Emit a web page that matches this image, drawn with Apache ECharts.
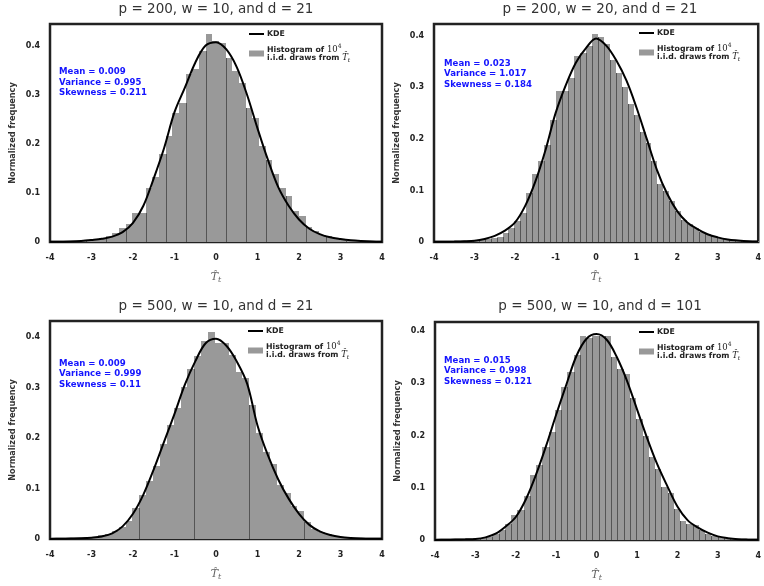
<!DOCTYPE html>
<html>
<head>
<meta charset="utf-8">
<script src="https://cdn.jsdelivr.net/npm/echarts@6/dist/echarts.min.js"></script>
<style>
  html, body { margin: 0; padding: 0; background: #fff; }
  #chart { width: 764px; height: 586px; }
</style>
</head>
<body>
<div id="chart"></div>
<script>
// panel titles and summary stats
const titles = [
  'p = 200, w = 10, and d = 21',
  'p = 200, w = 20, and d = 21',
  'p = 500, w = 10, and d = 21',
  'p = 500, w = 10, and d = 101'
];
const means = ['0.009', '0.023', '0.009', '0.015'];
const variances = ['0.995', '1.017', '0.999', '0.998'];
const skews = ['0.211', '0.184', '0.11', '0.121'];

// histogram bins: left edge of first bin, bin width, normalized heights
const binStart = [-3.782, -3.926, -3.671, -3.978];
const binWidth = [0.1606, 0.147, 0.1657, 0.155];

const hist1 = [0.001, 0.001, 0.002, 0.002, 0.003, 0.005, 0.008, 0.012, 0.019, 0.029,
  0.036, 0.059, 0.06, 0.11, 0.133, 0.18, 0.217, 0.264, 0.284, 0.342,
  0.353, 0.389, 0.425, 0.41, 0.407, 0.376, 0.349, 0.325, 0.274, 0.254,
  0.196, 0.168, 0.138, 0.11, 0.093, 0.063, 0.053, 0.03, 0.022, 0.015,
  0.012, 0.008, 0.005, 0.003, 0.002, 0.002, 0.001, 0.001];
const hist2 = [0.001, 0.001, 0.001, 0.002, 0.002, 0.003, 0.004, 0.005, 0.006, 0.008,
  0.009, 0.017, 0.027, 0.04, 0.056, 0.095, 0.131, 0.157, 0.189, 0.237,
  0.293, 0.293, 0.318, 0.36, 0.367, 0.38, 0.403, 0.397, 0.384, 0.354,
  0.328, 0.3, 0.268, 0.246, 0.214, 0.192, 0.158, 0.113, 0.098, 0.079,
  0.061, 0.043, 0.034, 0.027, 0.019, 0.016, 0.011, 0.008, 0.006, 0.004,
  0.003, 0.002, 0.001, 0.001];
const hist3 = [0.001, 0.001, 0.002, 0.003, 0.004, 0.007, 0.01, 0.016, 0.024, 0.036,
  0.062, 0.087, 0.115, 0.145, 0.188, 0.226, 0.26, 0.301, 0.337, 0.362,
  0.392, 0.41, 0.389, 0.389, 0.365, 0.331, 0.319, 0.265, 0.21, 0.173,
  0.148, 0.107, 0.092, 0.065, 0.056, 0.034, 0.02, 0.013, 0.01, 0.005,
  0.004, 0.003, 0.002, 0.001, 0.001, 0.001];
const hist4 = [0.0005, 0.001, 0.001, 0.001, 0.002, 0.002, 0.003, 0.004, 0.006, 0.012,
  0.02, 0.031, 0.048, 0.057, 0.085, 0.124, 0.143, 0.178, 0.206, 0.248,
  0.293, 0.321, 0.353, 0.39, 0.386, 0.391, 0.39, 0.39, 0.35, 0.328,
  0.318, 0.271, 0.232, 0.199, 0.159, 0.136, 0.101, 0.089, 0.06, 0.036,
  0.031, 0.028, 0.019, 0.012, 0.008, 0.005, 0.003, 0.002, 0.001, 0.001];

// KDE curves sampled on this grid
const kdeX = [-4, -3.75, -3.5, -3.25, -3, -2.75, -2.5, -2.25, -2, -1.75, -1.5,
  -1.25, -1, -0.75, -0.5, -0.25, 0, 0.25, 0.5, 0.75, 1, 1.25, 1.5, 1.75,
  2, 2.25, 2.5, 2.75, 3, 3.25, 3.5, 3.75, 4];
const kde1 = [0.0003, 0.0006, 0.001, 0.002, 0.004, 0.0065, 0.011, 0.02, 0.039, 0.074, 0.13,
  0.192, 0.265, 0.315, 0.366, 0.401, 0.408, 0.393, 0.357, 0.3, 0.232, 0.168, 0.112, 0.074,
  0.046, 0.027, 0.016, 0.0095, 0.006, 0.0035, 0.002, 0.001, 0.0005];
const kde2 = [0.0003, 0.0005, 0.0009, 0.0015, 0.0025, 0.006, 0.012, 0.022, 0.038, 0.07, 0.117,
  0.178, 0.25, 0.304, 0.348, 0.376, 0.395, 0.381, 0.352, 0.313, 0.26, 0.2, 0.14, 0.094,
  0.06, 0.038, 0.025, 0.015, 0.009, 0.005, 0.003, 0.0015, 0.0008];
const kde3 = [0.0002, 0.0004, 0.0008, 0.0013, 0.0025, 0.005, 0.011, 0.025, 0.05, 0.088, 0.138,
  0.193, 0.248, 0.306, 0.352, 0.388, 0.397, 0.383, 0.352, 0.308, 0.225, 0.166, 0.118, 0.08,
  0.05, 0.028, 0.015, 0.008, 0.004, 0.002, 0.001, 0.0005, 0.0003];
const kde4 = [0.0002, 0.0004, 0.0008, 0.0012, 0.0018, 0.005, 0.012, 0.026, 0.044, 0.078, 0.125,
  0.18, 0.24, 0.297, 0.352, 0.385, 0.394, 0.383, 0.35, 0.305, 0.25, 0.195, 0.145, 0.103,
  0.064, 0.038, 0.024, 0.014, 0.007, 0.0035, 0.0015, 0.0007, 0.0003];

const xTicks = [-4, -3, -2, -1, 0, 1, 2, 3, 4];
const yTicks = [0, 0.1, 0.2, 0.3, 0.4];

const hists = [hist1, hist2, hist3, hist4];
const kdes = [kde1, kde2, kde3, kde4];

// layout
const grids = [
  { left: 50, top: 24, width: 332, height: 218 },
  { left: 434, top: 24, width: 331, height: 218 },
  { left: 50, top: 321, width: 332, height: 218 },
  { left: 435, top: 322, width: 331, height: 218 }
];
const yMax = [0.445, 0.423, 0.432, 0.417];
const edgeStep = [3, 1, 8, 1];
const edgePhase = [1, 0, 3, 0];
const titlePos = [[216, 2], [600, 2], [216, 299], [600, 299]];
const statsPos = [[59, 66.5], [444, 58], [59, 358], [444, 355]];
const legendPos = [[249, 30], [639, 29], [248, 327], [639, 328]];

const SANS = 'DejaVu Sans';
const SERIF = 'DejaVu Serif';
// thin horizontal bar inside a 15x6 box (corner dots keep the box size)
const LINE_ICON = 'path://M0,0h0.01v0.01h-0.01z M0,2.1h15v1.8h-15z M14.99,5.99h0.01v0.01h-0.01z';
const chart = echarts.init(document.getElementById('chart'));

function histRender(p) {
  return function (params, api) {
    const x0 = api.value(0), x1 = api.value(1), h = api.value(2), eh = api.value(3);
    const a = api.coord([x0, h]);
    const b = api.coord([x1, 0]);
    const left = Math.round(a[0]);
    const right = Math.round(b[0]);
    const top = Math.round(a[1]);
    const children = [{
      type: 'rect',
      shape: { x: left, y: top, width: right - left, height: b[1] - top },
      style: { fill: '#999999' }
    }];
    if ((params.dataIndex - edgePhase[p]) % edgeStep[p] === 0 && eh > 0) {
      const et = api.coord([x0, eh]);
      children.push({
        type: 'line',
        shape: { x1: left + 0.5, y1: Math.round(et[1]), x2: left + 0.5, y2: b[1] },
        style: { stroke: '#555555', lineWidth: 1 }
      });
    }
    return { type: 'group', children: children };
  };
}

const tickLabel = { fontFamily: SANS, fontWeight: 'bold', fontSize: 8, color: '#222' };

const option = {
  animation: false,
  backgroundColor: '#fff',
  title: titles.map((t, i) => ({
    text: t,
    left: titlePos[i][0],
    top: titlePos[i][1],
    textAlign: 'center',
    padding: 0,
    textStyle: { fontFamily: SANS, fontWeight: 'normal', fontSize: 13.5, color: '#333' }
  })),
  grid: grids.map(g => Object.assign({ show: true, borderColor: '#222', borderWidth: 2.5, backgroundColor: 'transparent' }, g)),
  xAxis: grids.map((g, i) => ({
    type: 'value', gridIndex: i, min: xTicks[0], max: xTicks[xTicks.length - 1], interval: 1,
    axisLine: { show: false }, axisTick: { show: false }, splitLine: { show: false },
    axisLabel: Object.assign({ margin: 12 }, tickLabel),
    name: '{t|T\u0302}{s|t}', nameLocation: 'middle', nameGap: 29,
    nameTextStyle: {
      rich: {
        t: { fontFamily: SERIF, fontStyle: 'italic', fontSize: 11, color: '#666' },
        s: { fontFamily: SERIF, fontStyle: 'italic', fontSize: 8, color: '#666', padding: [5, 0, 0, 0] }
      }
    }
  })),
  yAxis: grids.map((g, i) => ({
    type: 'value', gridIndex: i, min: 0, max: yMax[i], interval: 0.1,
    axisLine: { show: false }, axisTick: { show: false }, splitLine: { show: false },
    axisLabel: Object.assign({
      margin: 10,
      formatter: v => {
        const k = yTicks.findIndex(t => Math.abs(t - v) < 1e-9);
        return k < 0 ? '' : String(yTicks[k]);
      }
    }, tickLabel),
    name: 'Normalized frequency', nameLocation: 'middle', nameGap: 33,
    nameTextStyle: { fontFamily: SANS, fontWeight: 'bold', fontSize: 8.2, color: '#333' }
  })),
  legend: grids.map((g, i) => ({
    left: legendPos[i][0], top: legendPos[i][1], orient: 'vertical',
    itemWidth: 15, itemHeight: 6, itemGap: 5, padding: 0, selectedMode: false,
    data: [{ name: 'KDE', icon: LINE_ICON, itemStyle: { color: '#000' } }, { name: 'Histogram', icon: 'rect' }],
    formatter: name => name === 'KDE'
      ? '{b|KDE}'
      : '{b|Histogram of }{m|10}{sup|4}\n{b|i.i.d. draws from }{ti|T\u0302}{sub|t}',
    textStyle: {
      padding: [0, 0, 0, -2],
      rich: {
        b: { fontFamily: SANS, fontWeight: 'bold', fontSize: 7.8, color: '#222', lineHeight: 8 },
        m: { fontFamily: SERIF, fontSize: 8.5, color: '#222', lineHeight: 8 },
        sup: { fontFamily: SERIF, fontSize: 6, color: '#222', lineHeight: 1, padding: [0, 0, 7, 0] },
        ti: { fontFamily: SERIF, fontStyle: 'italic', fontSize: 8.5, color: '#222', lineHeight: 8 },
        sub: { fontFamily: SERIF, fontStyle: 'italic', fontSize: 6, color: '#222', lineHeight: 3, padding: [5, 0, 0, 0] }
      }
    }
  })),
  graphic: grids.map((g, i) => ({
    type: 'text',
    left: statsPos[i][0], top: statsPos[i][1],
    style: {
      text: 'Mean = ' + means[i] + '\nVariance = ' + variances[i] + '\nSkewness = ' + skews[i],
      fill: '#1414ff', font: 'bold 8.6px "DejaVu Sans"', lineHeight: 10.6
    }
  })),
  series: []
};

hists.forEach((h, i) => {
  const data = h.map((v, k) => [
    binStart[i] + k * binWidth[i],
    binStart[i] + (k + 1) * binWidth[i],
    v,
    k === 0 ? 0 : Math.min(v, h[k - 1])
  ]);
  option.series.push({
    name: 'Histogram', type: 'custom', coordinateSystem: 'cartesian2d',
    xAxisIndex: i, yAxisIndex: i, silent: true, z: 2,
    itemStyle: { color: '#999999' },
    encode: { x: [0, 1], y: 2 },
    renderItem: histRender(i),
    data: data
  });
  option.series.push({
    name: 'KDE', type: 'line', xAxisIndex: i, yAxisIndex: i, z: 3,
    symbol: 'none', smooth: 0.35, silent: true,
    lineStyle: { color: '#000', width: 2 },
    itemStyle: { color: '#000' },
    data: kdeX.map((x, k) => [x, kdes[i][k]])
  });
});

chart.setOption(option);
</script>
</body>
</html>
